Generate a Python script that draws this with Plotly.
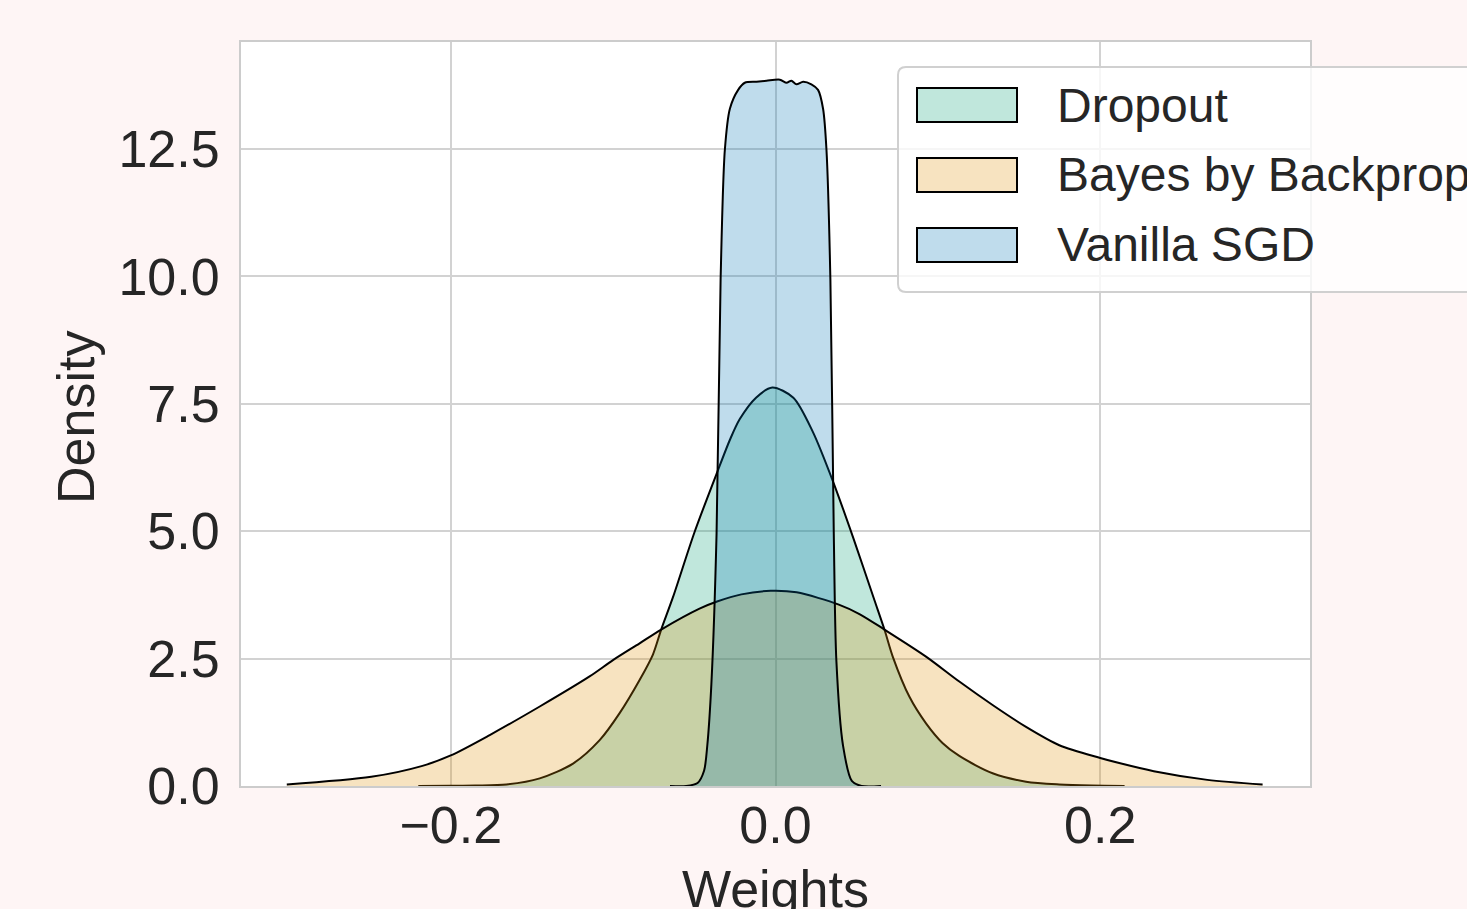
import plotly.graph_objects as go

# ---------------- data ----------------
series_names = ["Dropout", "Bayes by Backprop", "Vanilla SGD"]

dropout_x = [-0.22, -0.20, -0.185, -0.1657, -0.1452, -0.1247, -0.1083, -0.096, -0.0837, -0.0755,
             -0.0704, -0.0632, -0.050, -0.036, -0.028, -0.022, -0.012, -0.002, 0.011, 0.023,
             0.0355, 0.048, 0.0609, 0.0671, 0.0722, 0.0825, 0.0927, 0.103, 0.1132, 0.1337,
             0.1543, 0.1748, 0.195, 0.215]
dropout_y = [0.0, 0.003, 0.01, 0.03, 0.15, 0.44, 0.90, 1.43, 2.08, 2.58,
             3.07, 3.70, 4.97, 6.15, 6.80, 7.20, 7.62, 7.82, 7.62, 6.95,
             5.97, 4.86, 3.65, 3.07, 2.54, 1.75, 1.23, 0.84, 0.59, 0.25,
             0.085, 0.03, 0.008, 0.0]

bayes_x = [-0.301, -0.249, -0.218, -0.200, -0.176, -0.1452, -0.1145, -0.1001, -0.0837, -0.0704,
           -0.0468, -0.036, -0.021, -0.003, 0.013, 0.039, 0.0517, 0.0671, 0.0927, 0.1132,
           0.1337, 0.1543, 0.1748, 0.200, 0.2117, 0.233, 0.266, 0.300]
bayes_y = [0.03, 0.18, 0.39, 0.60, 1.00, 1.56, 2.15, 2.47, 2.80, 3.07,
           3.48, 3.62, 3.76, 3.83, 3.80, 3.56, 3.375, 3.07, 2.54, 2.05,
           1.59, 1.16, 0.80, 0.55, 0.45, 0.29, 0.12, 0.03]

vanilla_x = [-0.065, -0.055, -0.048, -0.044, -0.042, -0.0395, -0.0363, -0.0338, -0.0312, -0.0281,
             -0.0230, -0.0189, -0.0117, -0.0055, 0.0027, 0.0068, 0.0098, 0.0129, 0.0170, 0.0221,
             0.0262, 0.0293, 0.0314, 0.0338, 0.0359, 0.0375, 0.0416, 0.0470, 0.0530, 0.065]
vanilla_y = [0.0, 0.0, 0.06, 0.30, 0.80, 2.0, 4.95, 9.95, 12.48, 13.29,
             13.66, 13.80, 13.82, 13.84, 13.86, 13.80, 13.84, 13.77, 13.82, 13.77,
             13.66, 13.29, 12.48, 9.95, 4.95, 2.45, 0.79, 0.10, 0.0, 0.0]

series_x = [dropout_x, bayes_x, vanilla_x]
series_y = [dropout_y, bayes_y, vanilla_y]
series_rgb = [(2, 158, 115), (222, 143, 5), (1, 115, 178)]

x_ticks = [-0.2, 0.0, 0.2]
x_ticktext = ["\u22120.2", "0.0", "0.2"]
y_ticks = [0.0, 2.5, 5.0, 7.5, 10.0, 12.5]
y_ticktext = ["0.0", "2.5", "5.0", "7.5", "10.0", "12.5"]

# ---------------- styling / layout ----------------
W, H = 1467, 909
L, R, T, B = 241, 1310, 42, 786  # plot area in pixels
FONT = "Liberation Sans, Arial, sans-serif"
TXT = "#262626"


def px_x(p):
    return (p - L) / (R - L)


def px_y(p):
    return (B - p) / (B - T)


fig = go.Figure()
for name, xs, ys, rgb in zip(series_names, series_x, series_y, series_rgb):
    fig.add_trace(go.Scatter(
        x=xs, y=ys, name=name, mode="lines",
        line=dict(color="black", width=2, shape="spline", smoothing=0.8),
        fill="tozeroy",
        fillcolor="rgba(%d,%d,%d,0.25)" % rgb,
        showlegend=False,
    ))

fig.update_layout(
    width=W, height=H,
    margin=dict(l=L, r=W - R, t=T, b=H - B, autoexpand=False),
    paper_bgcolor="#fef5f5",
    plot_bgcolor="white",
    font=dict(family=FONT, color=TXT, size=52),
)
fig.update_xaxes(
    range=[-0.3292, 0.3292], tickvals=x_ticks, ticktext=x_ticktext,
    showgrid=True, gridcolor="#d2d2d2", gridwidth=2, zeroline=False,
    showline=True, mirror=True, linecolor="#cccccc", linewidth=2,
    ticks="", tickfont=dict(size=52, color=TXT, family=FONT), ticklabelstandoff=-7,
)
fig.update_yaxes(
    range=[0, 14.6], tickvals=y_ticks, ticktext=y_ticktext,
    showgrid=True, gridcolor="#d2d2d2", gridwidth=2, zeroline=False,
    showline=True, mirror=True, linecolor="#cccccc", linewidth=2,
    ticks="", tickfont=dict(size=52, color=TXT, family=FONT), ticklabelstandoff=9,
)

# axis titles
fig.add_annotation(text="Weights", xref="paper", yref="paper", x=0.5, y=px_y(858),
                   xanchor="center", yanchor="top", showarrow=False,
                   font=dict(size=52, color=TXT, family=FONT))
fig.add_annotation(text="Density", xref="paper", yref="paper", x=px_x(76), y=px_y(418),
                   xanchor="center", yanchor="middle", textangle=-90, showarrow=False,
                   font=dict(size=52, color=TXT, family=FONT))

# legend (box, patches and labels)
bx0, by0, bx1, by1, rad = 898, 67, 1540, 292, 8
path = (
    f"M {px_x(bx0 + rad)} {px_y(by0)} L {px_x(bx1 - rad)} {px_y(by0)} "
    f"Q {px_x(bx1)} {px_y(by0)} {px_x(bx1)} {px_y(by0 + rad)} "
    f"L {px_x(bx1)} {px_y(by1 - rad)} Q {px_x(bx1)} {px_y(by1)} {px_x(bx1 - rad)} {px_y(by1)} "
    f"L {px_x(bx0 + rad)} {px_y(by1)} Q {px_x(bx0)} {px_y(by1)} {px_x(bx0)} {px_y(by1 - rad)} "
    f"L {px_x(bx0)} {px_y(by0 + rad)} Q {px_x(bx0)} {px_y(by0)} {px_x(bx0 + rad)} {px_y(by0)} Z"
)
fig.add_shape(type="path", path=path, xref="paper", yref="paper", layer="above",
              fillcolor="rgba(255,255,255,0.8)", line=dict(color="#d0d0d0", width=2))

row_centers = [105, 175, 245]
for name, rgb, cy in zip(series_names, series_rgb, row_centers):
    fig.add_shape(type="rect", xref="paper", yref="paper", layer="above",
                  x0=px_x(917), x1=px_x(1017), y0=px_y(cy - 17), y1=px_y(cy + 17),
                  fillcolor="rgba(%d,%d,%d,0.25)" % rgb, line=dict(color="black", width=2))
    fig.add_annotation(text=name, xref="paper", yref="paper", x=px_x(1055), y=px_y(cy),
                       xanchor="left", yanchor="middle", showarrow=False,
                       font=dict(size=48, color=TXT, family=FONT))

fig.write_html("out.html", config={"displayModeBar": False},
               post_script="document.body.style.margin='0';document.body.style.overflow='hidden';")
